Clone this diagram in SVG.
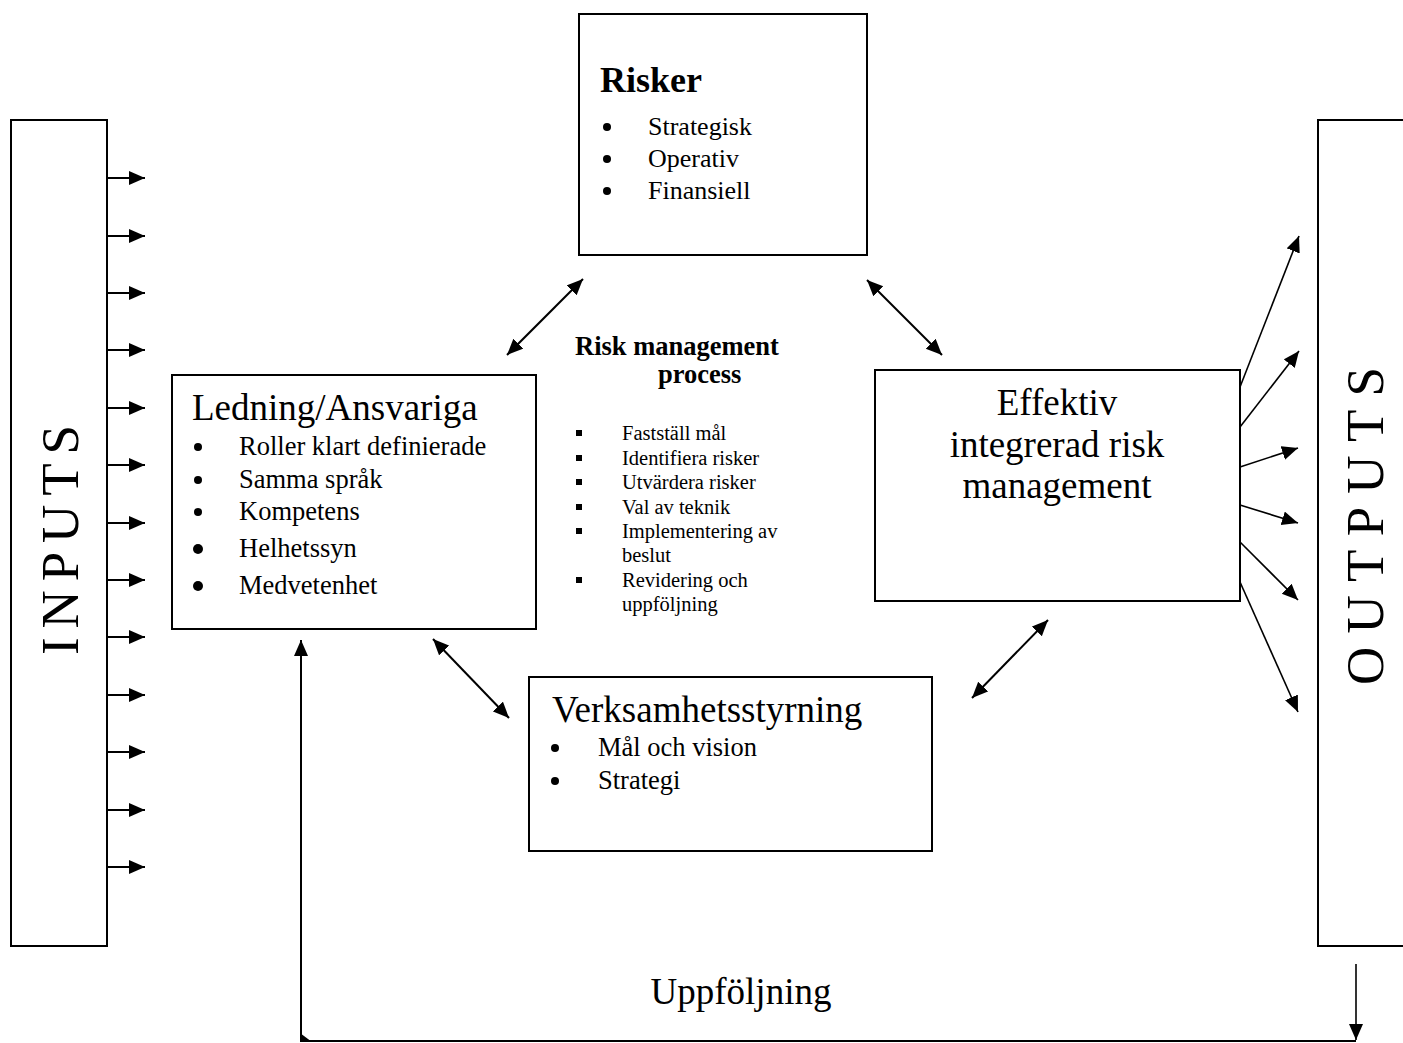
<svg xmlns="http://www.w3.org/2000/svg" width="1403" height="1043" viewBox="0 0 1403 1043">
  <style>
    .box { fill: #fff; stroke: #000; stroke-width: 2; }
    .t { font-family: "Liberation Serif", "Times New Roman", serif; fill: #000; }
    .title { font-size: 37px; }
    .item { font-size: 26.5px; }
    .small { font-size: 20.5px; }
    .big { font-size: 53px; }
    .ln { stroke: #000; stroke-width: 2; fill: none; }
    .ln1 { stroke: #000; stroke-width: 1.6; fill: none; }
  </style>
  <defs>
    <marker id="ah" markerUnits="userSpaceOnUse" markerWidth="17" markerHeight="15" refX="16" refY="7" orient="auto-start-reverse">
      <path d="M0,0 L16,7 L0,14 z" fill="#000"/>
    </marker>
  </defs>

  <rect width="1403" height="1043" fill="#fff"/>

  <!-- side bars -->
  <g id="inputs">
    <rect class="box" x="11" y="120" width="96" height="826"/>
    <text class="t big" text-anchor="middle" textLength="230" lengthAdjust="spacing" transform="translate(78,540) rotate(-90)">INPUTS</text>
  </g>
  <g id="outputs">
    <rect class="box" x="1318" y="120" width="100" height="826"/>
    <text class="t big" text-anchor="middle" textLength="318" lengthAdjust="spacing" transform="translate(1383,526) rotate(-90)">OUTPUTS</text>
  </g>

  <!-- central nodes -->
  <g id="risker">
    <rect class="box" x="579" y="14" width="288" height="241"/>
    <text class="t" x="600" y="92" font-size="36" font-weight="bold">Risker</text>
    <circle cx="607" cy="127" r="4"/>
    <circle cx="607" cy="159" r="4"/>
    <circle cx="607" cy="191" r="4"/>
    <text class="t" x="648" y="135" font-size="26">Strategisk</text>
    <text class="t" x="648" y="167" font-size="26">Operativ</text>
    <text class="t" x="648" y="199" font-size="26">Finansiell</text>
  </g>

  <g id="ledning">
    <rect class="box" x="172" y="375" width="364" height="254"/>
    <text class="t title" x="192" y="420">Ledning/Ansvariga</text>
    <circle cx="198" cy="447" r="4"/>
    <circle cx="198" cy="480" r="4"/>
    <circle cx="198" cy="512" r="4"/>
    <circle cx="198" cy="549" r="5"/>
    <circle cx="198" cy="586" r="5"/>
    <text class="t item" x="239" y="455">Roller klart definierade</text>
    <text class="t item" x="239" y="488">Samma språk</text>
    <text class="t item" x="239" y="520">Kompetens</text>
    <text class="t item" x="239" y="557">Helhetssyn</text>
    <text class="t item" x="239" y="594">Medvetenhet</text>
  </g>

  <g id="process">
    <text class="t" x="575" y="355" font-size="26.5" font-weight="bold">Risk management</text>
    <text class="t" x="658" y="383" font-size="26.5" font-weight="bold">process</text>
    <g fill="#000">
      <rect x="576" y="430" width="6" height="6"/>
      <rect x="576" y="455" width="6" height="6"/>
      <rect x="576" y="479" width="6" height="6"/>
      <rect x="576" y="504" width="6" height="6"/>
      <rect x="576" y="528" width="6" height="6"/>
      <rect x="576" y="577" width="6" height="6"/>
    </g>
    <text class="t small" x="622" y="440">Fastställ mål</text>
    <text class="t small" x="622" y="465">Identifiera risker</text>
    <text class="t small" x="622" y="489">Utvärdera risker</text>
    <text class="t small" x="622" y="514">Val av teknik</text>
    <text class="t small" x="622" y="538">Implementering av</text>
    <text class="t small" x="622" y="562">beslut</text>
    <text class="t small" x="622" y="587">Revidering och</text>
    <text class="t small" x="622" y="611">uppföljning</text>
  </g>

  <g id="effektiv">
    <rect class="box" x="875" y="370" width="365" height="231"/>
    <text class="t title" x="1057" y="415" text-anchor="middle">Effektiv</text>
    <text class="t title" x="1057" y="457" text-anchor="middle">integrerad risk</text>
    <text class="t title" x="1057" y="498" text-anchor="middle">management</text>
  </g>

  <g id="verksamhet">
    <rect class="box" x="529" y="677" width="403" height="174"/>
    <text class="t title" x="552" y="722">Verksamhetsstyrning</text>
    <circle cx="555" cy="748" r="4"/>
    <circle cx="555" cy="781" r="4"/>
    <text class="t item" x="598" y="756">Mål och vision</text>
    <text class="t item" x="598" y="789">Strategi</text>
  </g>

  <g id="uppfoljning-label">
    <text class="t title" x="741" y="1004" text-anchor="middle">Uppföljning</text>
  </g>

  <!-- connectors -->
  <g id="connectors">
    <!-- input feeds -->
    <g class="ln" marker-end="url(#ah)">
      <line class="ln" x1="107" y1="178" x2="145" y2="178" marker-end="url(#ah)"/>
      <line class="ln" x1="107" y1="236" x2="145" y2="236" marker-end="url(#ah)"/>
      <line class="ln" x1="107" y1="293" x2="145" y2="293" marker-end="url(#ah)"/>
      <line class="ln" x1="107" y1="350" x2="145" y2="350" marker-end="url(#ah)"/>
      <line class="ln" x1="107" y1="408" x2="145" y2="408" marker-end="url(#ah)"/>
      <line class="ln" x1="107" y1="465" x2="145" y2="465" marker-end="url(#ah)"/>
      <line class="ln" x1="107" y1="523" x2="145" y2="523" marker-end="url(#ah)"/>
      <line class="ln" x1="107" y1="580" x2="145" y2="580" marker-end="url(#ah)"/>
      <line class="ln" x1="107" y1="637" x2="145" y2="637" marker-end="url(#ah)"/>
      <line class="ln" x1="107" y1="695" x2="145" y2="695" marker-end="url(#ah)"/>
      <line class="ln" x1="107" y1="752" x2="145" y2="752" marker-end="url(#ah)"/>
      <line class="ln" x1="107" y1="810" x2="145" y2="810" marker-end="url(#ah)"/>
      <line class="ln" x1="107" y1="867" x2="145" y2="867" marker-end="url(#ah)"/>
    </g>

    <!-- two-way links between central nodes -->
    <line class="ln" x1="507" y1="355" x2="583" y2="279" marker-start="url(#ah)" marker-end="url(#ah)"/>
    <line class="ln" x1="867" y1="280" x2="942" y2="355" marker-start="url(#ah)" marker-end="url(#ah)"/>
    <line class="ln" x1="433" y1="639" x2="509" y2="718" marker-start="url(#ah)" marker-end="url(#ah)"/>
    <line class="ln" x1="972" y1="698" x2="1048" y2="620" marker-start="url(#ah)" marker-end="url(#ah)"/>

    <!-- fan-out to outputs -->
    <line class="ln1" x1="1240" y1="387" x2="1299" y2="236" marker-end="url(#ah)"/>
    <line class="ln1" x1="1240" y1="427" x2="1299" y2="351" marker-end="url(#ah)"/>
    <line class="ln1" x1="1240" y1="467" x2="1298" y2="448" marker-end="url(#ah)"/>
    <line class="ln1" x1="1240" y1="505" x2="1298" y2="523" marker-end="url(#ah)"/>
    <line class="ln1" x1="1240" y1="542" x2="1298" y2="600" marker-end="url(#ah)"/>
    <line class="ln1" x1="1240" y1="582" x2="1298" y2="712" marker-end="url(#ah)"/>

    <!-- feedback loop -->
    <line class="ln1" x1="1356" y1="964" x2="1356" y2="1040" marker-end="url(#ah)"/>
    <line class="ln" x1="1356" y1="1041" x2="301" y2="1041"/>
    <line class="ln" x1="301" y1="1041" x2="301" y2="640" marker-end="url(#ah)"/>
    <polygon points="300,1033 300,1042 312,1042" fill="#000"/>
  </g>
</svg>
